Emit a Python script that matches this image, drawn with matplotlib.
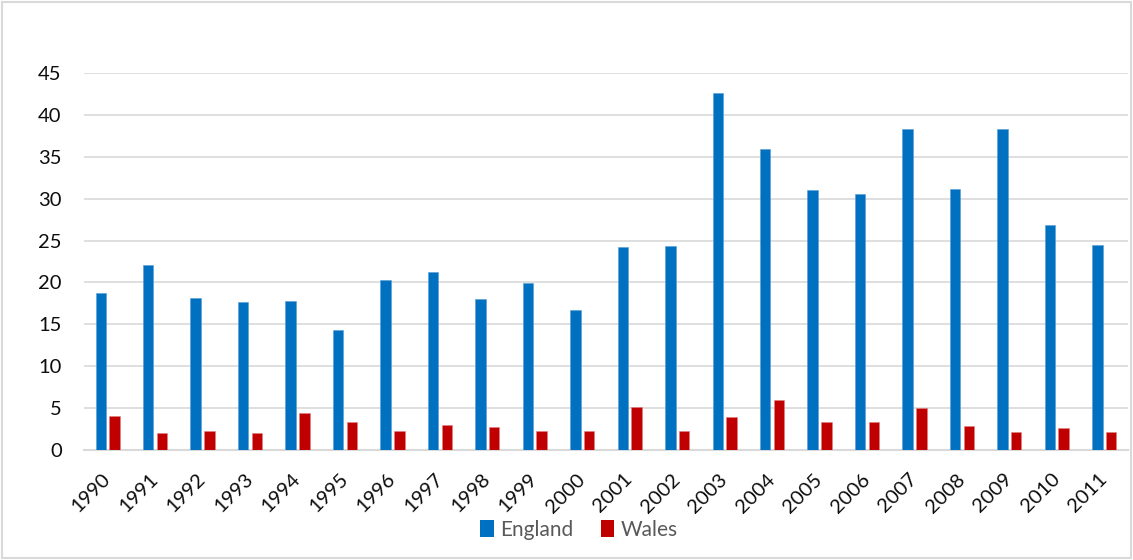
import numpy as np
import matplotlib.pyplot as plt
from matplotlib.patches import Rectangle, Patch

plt.rcParams["font.family"] = ["Lato", "DejaVu Sans"]

years = [str(y) for y in range(1990, 2012)]
england = [18.8, 22.1, 18.1, 17.7, 17.8, 14.3, 20.3, 21.2, 18.0, 19.9, 16.7,
           24.2, 24.3, 42.6, 35.9, 31.0, 30.6, 38.3, 31.1, 38.3, 26.8, 24.5]
wales = [4.1, 2.0, 2.3, 2.0, 4.4, 3.4, 2.3, 3.0, 2.7, 2.3, 2.3,
         5.1, 2.3, 4.0, 6.0, 3.3, 3.3, 5.0, 2.9, 2.2, 2.6, 2.2]

blue = "#0070C0"
red = "#C00000"
grid = "#D9D9D9"

fig = plt.figure(figsize=(11.33, 5.6), dpi=100)
ax = fig.add_axes([0.0741, 0.1964, 0.9215, 0.6732])

x = np.arange(len(years))
w = 0.22
ax.bar(x - w / 2 - 0.035, england, width=w, color=blue, edgecolor="#5B9BD5", linewidth=0.4, zorder=3)
ax.bar(x + w / 2 + 0.035, wales, width=w, color=red, edgecolor="#E08080", linewidth=0.4, zorder=3)

ax.set_xlim(-0.5, len(years) - 0.5)
ax.set_ylim(0, 45)
ax.set_yticks(np.arange(0, 46, 5))
ax.yaxis.grid(True, color=grid, linewidth=1.2, zorder=0)
ax.set_axisbelow(True)

for s in ["top", "right", "left"]:
    ax.spines[s].set_visible(False)
ax.spines["bottom"].set_color(grid)
ax.spines["bottom"].set_linewidth(1.5)

# axis labels
ax.tick_params(axis="both", length=0, labelsize=14.5, colors="#0d0d0d")
ax.tick_params(axis="y", pad=16)
ax.set_xticks(x)
ax.set_xticklabels(years, rotation=45, ha="right", va="center", rotation_mode="anchor")
ax.tick_params(axis="x", pad=19)

handles = [Patch(facecolor=blue, label="England"), Patch(facecolor=red, label="Wales")]
leg = fig.legend(handles=handles, loc="center", bbox_to_anchor=(0.511, 0.054), ncol=2,
                 frameon=False, fontsize=15, handlelength=0.65, handleheight=0.85,
                 handletextpad=0.3, columnspacing=1.3)
for t in leg.get_texts():
    t.set_color("#595959")

# outer chart border
fig.patches.append(Rectangle((0.002, 0.003), 0.996, 0.994, transform=fig.transFigure,
                             fill=False, edgecolor=grid, linewidth=1.5))

fig.savefig("out.png", dpi=100)
